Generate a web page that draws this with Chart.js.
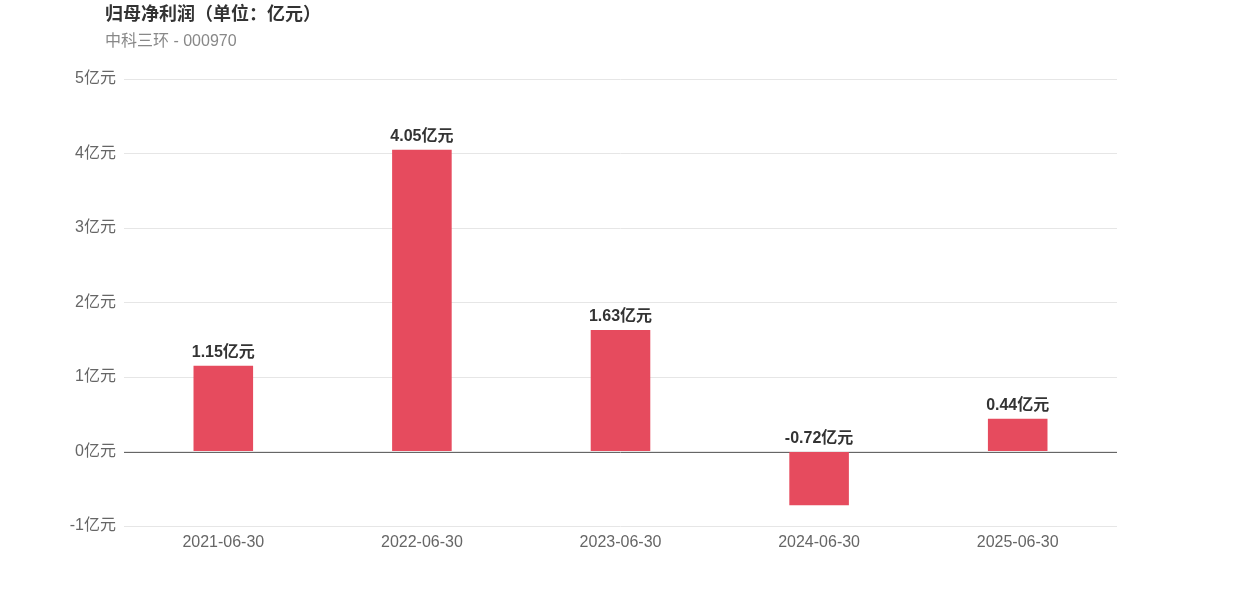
<!DOCTYPE html>
<html><head><meta charset="utf-8">
<script src="https://cdn.jsdelivr.net/npm/chart.js@4"></script>
<style>
html,body{margin:0;padding:0;background:#fff;}
#wrap{position:relative;width:1242px;height:596px;}
#t1{position:absolute;left:105px;top:-1px;font:bold 18px "Liberation Sans","Noto Sans CJK SC",sans-serif;color:#333;}
#t2{position:absolute;left:105px;top:27px;font:16px "Liberation Sans","Noto Sans CJK SC",sans-serif;color:#888;}
canvas{position:absolute;left:0;top:0;}
</style></head>
<body><div id="wrap"><canvas id="c" width="1242" height="596"></canvas>
<div id="t1">归母净利润（单位：亿元）</div><div id="t2">中科三环 - 000970</div></div>
<script>
const categories = ["2021-06-30","2022-06-30","2023-06-30","2024-06-30","2025-06-30"];
const values = [1.15, 4.05, 1.63, -0.72, 0.44];
const unit = "亿元";
const FONT = '"Liberation Sans","Noto Sans CJK SC",sans-serif';

const labelPlugin = {
  id:'barLabels',
  afterDatasetsDraw(chart){
    const ctx = chart.ctx;
    const meta = chart.getDatasetMeta(0);
    const y0 = chart.scales.y.getPixelForValue(0);
    ctx.save();
    ctx.font = 'bold 16px ' + FONT;
    ctx.fillStyle = '#333';
    ctx.textAlign = 'center';
    ctx.textBaseline = 'bottom';
    meta.data.forEach((el,i)=>{
      const v = values[i];
      const y = v >= 0 ? el.y : y0;
      ctx.fillText(v.toFixed(2) + unit, el.x, y - 5);
    });
    ctx.restore();
  }
};
const zeroLine = {
  id:'zeroLine',
  beforeDatasetsDraw(chart){
    const ctx = chart.ctx, a = chart.chartArea;
    const y = Math.round(chart.scales.y.getPixelForValue(0)) + 0.5;
    ctx.save();
    ctx.strokeStyle = '#666'; ctx.lineWidth = 1;
    ctx.beginPath(); ctx.moveTo(a.left, y); ctx.lineTo(a.right, y); ctx.stroke();
    ctx.restore();
  }
};

new Chart(document.getElementById('c'), {
  type:'bar',
  data:{labels:categories, datasets:[{data:values, backgroundColor:'#E64B5E', barPercentage:0.3, categoryPercentage:1}]},
  options:{
    responsive:false, animation:false,
    layout:{padding:{left:0,right:125,top:79,bottom:40}},
    plugins:{legend:{display:false}, tooltip:{enabled:false}},
    scales:{
      x:{grid:{display:false}, border:{display:false},
         ticks:{color:'#666', font:{size:16, family:FONT}, padding:-1, maxRotation:0},
         afterFit(s){ s.height = 30; }},
      y:{min:-1, max:5, grid:{color:'#e6e6e6', drawTicks:false}, border:{display:false},
         ticks:{stepSize:1, color:'#666', font:{size:16, family:FONT}, padding:8, callback:v=>v+unit},
         afterFit(s){ s.width = 124; }}
    }
  },
  plugins:[zeroLine, labelPlugin]
});
</script></body></html>
